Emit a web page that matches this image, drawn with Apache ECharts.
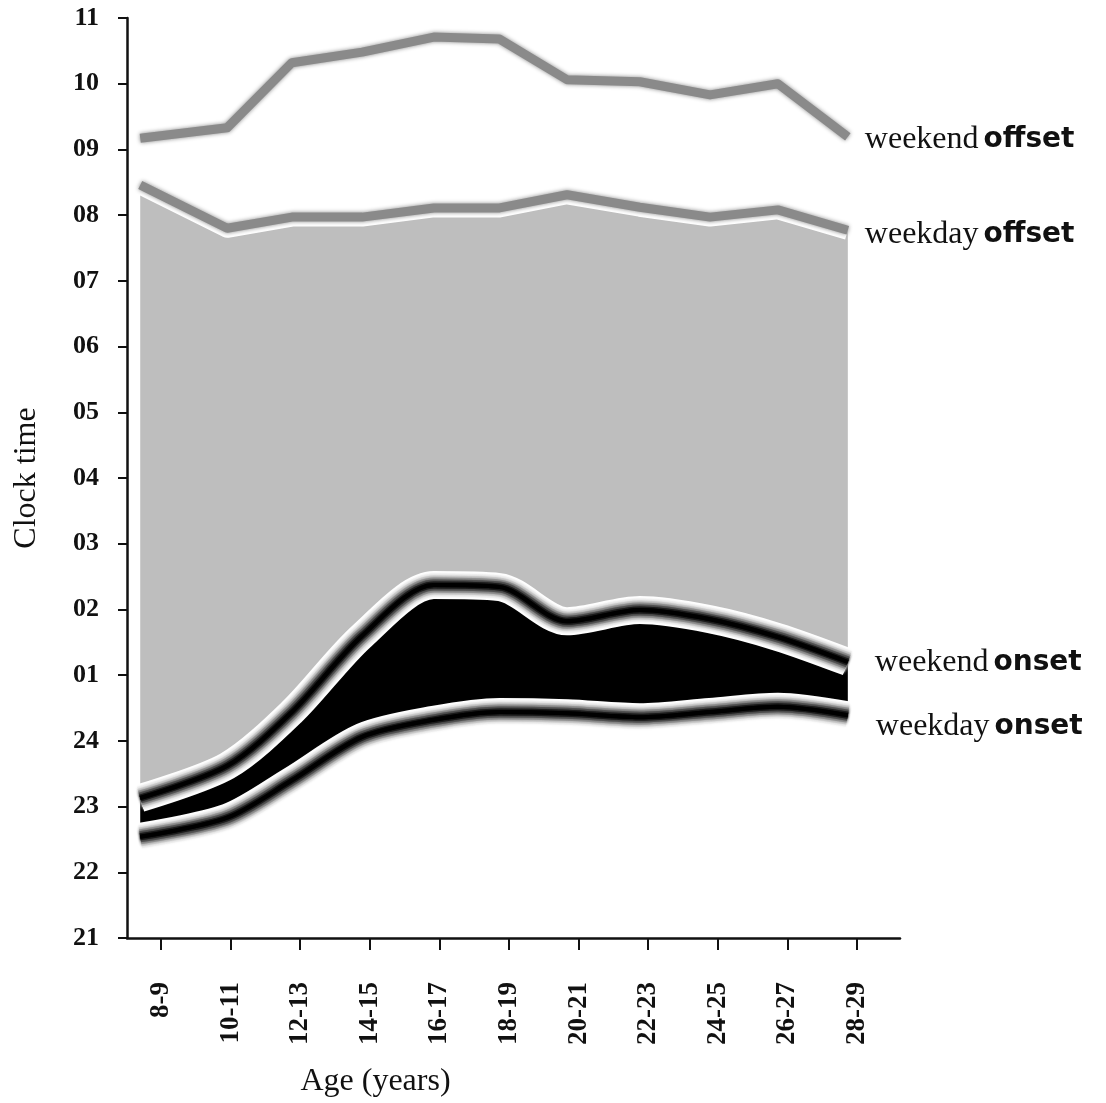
<!DOCTYPE html>
<html>
<head>
<meta charset="utf-8">
<script src="https://cdn.jsdelivr.net/npm/echarts@6/dist/echarts.min.js"></script>
<style>html,body{margin:0;padding:0;background:#fff}#chart{width:1106px;height:1103px}</style>
</head>
<body>
<div id="chart"></div>
<script>
// ---- data (clock time in hours; values above 24 are after midnight) ----
const ageGroups = ['8-9', '10-11', '12-13', '14-15', '16-17', '18-19', '20-21', '22-23', '24-25', '26-27', '28-29'];
const groupTickAges = [8.5, 10.5, 12.5, 14.5, 16.5, 18.5, 20.5, 22.5, 24.5, 26.5, 28.5];
const sampleAges = [7.9, 10.4, 12.26, 14.28, 16.34, 18.23, 20.17, 22.26, 24.28, 26.23, 28.24];
const weekendOffset = [33.17, 33.33, 34.32, 34.48, 34.71, 34.68, 34.06, 34.03, 33.83, 34.00, 33.19];
const weekdayOffset = [32.46, 31.80, 31.97, 31.97, 32.11, 32.11, 32.31, 32.12, 31.97, 32.08, 31.77];
const weekendOnset  = [23.13, 23.62, 24.44, 25.60, 26.37, 26.34, 25.82, 25.99, 25.85, 25.58, 25.20];
const weekdayOnset  = [22.54, 22.83, 23.40, 24.06, 24.32, 24.44, 24.42, 24.36, 24.44, 24.52, 24.39];
const hourLabels = ['21', '22', '23', '24', '01', '02', '03', '04', '05', '06', '07', '08', '09', '10', '11'];

const SERIF = '"Liberation Serif", "Times New Roman", serif';
const SANS = '"DejaVu Sans", sans-serif';
const SMOOTH_ONSET = 0.3;
const SMOOTH_OFFSET = 0;

const pts = arr => sampleAges.map((a, i) => [a, arr[i]]);

// bands between two curves (drawn through the axis scales with api.coord)
const bands = [
  { top: weekdayOffset, topSmooth: SMOOTH_OFFSET, bottom: weekendOnset, bottomSmooth: SMOOTH_ONSET, fill: '#bebebe' },
  { top: weekendOnset, topSmooth: SMOOTH_ONSET, bottom: weekdayOnset, bottomSmooth: SMOOTH_ONSET, fill: '#000' }
];

// sample the same bezier smoothing that line series use
function sampleCurve(P, s) {
  const n = P.length;
  if (!s) return P.slice();
  const outCp = [], inCp = [];
  for (let i = 0; i < n; i++) {
    const p = P[i], prev = P[Math.max(0, i - 1)], next = P[Math.min(n - 1, i + 1)];
    const vx = next[0] - prev[0], vy = next[1] - prev[1];
    const d0 = Math.hypot(p[0] - prev[0], p[1] - prev[1]);
    const d1 = Math.hypot(next[0] - p[0], next[1] - p[1]);
    const r = (d0 + d1) > 0 ? d1 / (d0 + d1) : 0.5;
    outCp.push([p[0] + vx * s * r, p[1] + vy * s * r]);
    inCp.push([p[0] - vx * s * (1 - r), p[1] - vy * s * (1 - r)]);
  }
  const res = [P[0]];
  for (let i = 0; i < n - 1; i++) {
    const a = P[i], b = outCp[i], c = inCp[i + 1], d = P[i + 1];
    for (let k = 1; k <= 24; k++) {
      const t = k / 24, u = 1 - t;
      res.push([
        u * u * u * a[0] + 3 * u * u * t * b[0] + 3 * u * t * t * c[0] + t * t * t * d[0],
        u * u * u * a[1] + 3 * u * u * t * b[1] + 3 * u * t * t * c[1] + t * t * t * d[1]
      ]);
    }
  }
  return res;
}

function bandItem(params, api) {
  const b = bands[params.dataIndex];
  const top = sampleCurve(sampleAges.map((a, i) => api.coord([a, b.top[i]])), b.topSmooth);
  const bot = sampleCurve(sampleAges.map((a, i) => api.coord([a, b.bottom[i]])), b.bottomSmooth);
  return { type: 'polygon', shape: { points: top.concat(bot.reverse()) }, style: { fill: b.fill } };
}

function label(first, second, distance, offset) {
  return {
    show: true, distance: distance, offset: offset,
    formatter: '{a|' + first + '}{b|' + second + '}',
    rich: {
      a: { fontFamily: SERIF, fontSize: 32, color: '#111' },
      b: { fontFamily: SANS, fontWeight: 'bold', fontSize: 28, color: '#111', padding: [0, 0, 0, 5] }
    }
  };
}

function lineSeries(values, smooth, style, endLabel) {
  const s = { type: 'line', data: pts(values), symbol: 'none', smooth: smooth, silent: true,
    lineStyle: Object.assign({ join: 'round', cap: 'butt' }, style) };
  if (endLabel) s.endLabel = endLabel;
  return s;
}

// blurred black line with white halo (onset lines)
function glowLine(values, endLabel) {
  const layers = [[28, '#ffffff', 0], [23, '#f2f2f2', 3], [19, '#d2d2d2', 3], [15, '#9a9a9a', 3], [11, '#565656', 3], [7, '#1c1c1c', 2], [4, '#000000', 1]];
  return layers.map((l, i) => lineSeries(values, SMOOTH_ONSET,
    { width: l[0], color: l[1], shadowBlur: l[2], shadowColor: l[1] },
    i === layers.length - 1 ? endLabel : null));
}

// soft gray line (offset lines)
function grayLine(values, halo, endLabel) {
  const s = [];
  if (halo) s.push(lineSeries(values, SMOOTH_OFFSET, { width: 19, color: '#ffffff' }));
  s.push(lineSeries(values, SMOOTH_OFFSET, { width: 9, color: '#8a8a8a', shadowBlur: 4, shadowColor: '#8a8a8a' }, endLabel));
  return s;
}

const chart = echarts.init(document.getElementById('chart'));
chart.setOption({
  animation: false,
  backgroundColor: '#fff',
  grid: { left: 127, right: 206, top: 18, bottom: 165, outerBoundsMode: 'none' },
  xAxis: {
    type: 'value', min: 7.52, max: 29.74, z: 10,
    name: 'Age (years)', nameLocation: 'middle', nameGap: 128, nameMoveOverlap: false,
    nameTextStyle: { fontFamily: SERIF, fontSize: 32, color: '#111', padding: [0, 276, 0, 0] },
    axisLine: { lineStyle: { color: '#111', width: 2.5 } },
    axisTick: { show: true, length: 12, lineStyle: { color: '#111', width: 2 }, customValues: groupTickAges },
    axisLabel: {
      customValues: groupTickAges, rotate: 90, margin: 44,
      fontFamily: SERIF, fontWeight: 'bold', fontSize: 27, color: '#111',
      formatter: v => { const i = groupTickAges.indexOf(Math.round(v * 10) / 10); return i >= 0 ? ageGroups[i] : ''; }
    },
    splitLine: { show: false }
  },
  yAxis: {
    type: 'value', min: 21, max: 35, interval: 1, z: 10,
    name: 'Clock time', nameLocation: 'middle', nameGap: 84, nameRotate: 90, nameMoveOverlap: false,
    nameTextStyle: { fontFamily: SERIF, fontSize: 32, color: '#111' },
    axisLine: { show: true, lineStyle: { color: '#111', width: 2.5 } },
    axisTick: { show: true, length: 9, lineStyle: { color: '#111', width: 2 } },
    axisLabel: {
      margin: 28, fontFamily: SERIF, fontWeight: 'bold', fontSize: 26, color: '#111',
      formatter: v => hourLabels[Math.round(v) - 21]
    },
    splitLine: { show: false }
  },
  series: [
    { type: 'custom', data: bands.map((b, i) => [i]), renderItem: bandItem, silent: true, clip: true }
  ]
    .concat(grayLine(weekdayOffset, true, label('weekday', 'offset', 17, [0, 4])))
    .concat(grayLine(weekendOffset, false, label('weekend', 'offset', 17, [0, 3])))
    .concat(glowLine(weekendOnset, label('weekend', 'onset', 27, [0, 1])))
    .concat(glowLine(weekdayOnset, label('weekday', 'onset', 28, [0, 11])))
});
</script>
</body>
</html>
